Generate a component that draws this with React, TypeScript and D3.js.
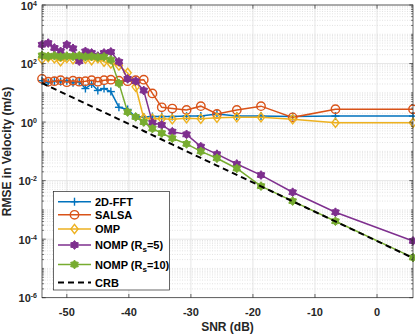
import React from "react";
import * as d3 from "d3";

// SNR grid (dB)
const SNR_DB = [-54, -53, -52, -51, -50, -49, -48, -47, -46, -45, -44, -42.9, -41.6, -40.2, -38.9, -37.6, -36.2, -34.7, -33.0, -30.7, -28.4, -25.8, -22.6, -18.7, -13.6, -6.7, 5.8];

// RMSE in velocity (m/s)
const RMSE_FFT = [26, 22, 25, 24, 26, 22, 24, 14, 20, 12, 14, 11, 3.2, 2.7, 1.5, 1.5, 1.55, 1.55, 1.55, 1.6, 1.6, 1.9, 1.6, 1.6, 1.55, 1.6, 1.6];
const RMSE_SALSA = [30, 24, 25, 27, 23, 26, 24, 25, 27, 24, 27, 28, 26, 25, 27, 28, 9.5, 3.2, 2.9, 2.6, 3.5, 1.9, 2.6, 3.5, 1.45, 2.75, 2.75];
const RMSE_OMP = [140, 165, 150, 120, 155, 140, 160, 145, 130, 150, 115, 100, 85, 48, 16, 1.35, 1.3, 1.3, 1.25, 1.35, 1.3, 1.4, 1.45, 1.45, 1.25, 0.95, 0.95];
const RMSE_NOMP5 = [440, 500, 340, 260, 440, 330, 120, 260, 230, 180, 230, 250, 115, 30, 25, 12, 0.95, 0.8, 0.47, 0.38, 0.145, 0.08, 0.037, 0.0155, 0.004, 0.00083, 0.000087];
const RMSE_NOMP10 = [190, 175, 185, 170, 180, 175, 185, 170, 175, 165, 170, 135, 21, 2.2, 1.5, 1.0, 0.6, 0.42, 0.28, 0.18, 0.1, 0.058, 0.026, 0.0065, 0.002, 0.00041, 0.0000235];
const CRB = [21.6, 17.2, 13.6, 10.8, 8.6, 6.84, 5.43, 4.32, 3.43, 2.72, 2.16, 1.68, 1.245, 0.902, 0.668, 0.495, 0.359, 0.254, 0.172, 0.101, 0.0596, 0.0327, 0.0157, 0.00638, 0.00197, 0.000403, 0.0000226];

const X_TICKS = [-50, -40, -30, -20, -10, 0];
const Y_TICK_EXPS = [-6, -4, -2, 0, 2, 4];

const SERIES = [
  { name: "2D-FFT", values: RMSE_FFT, color: "#0072BD", marker: "plus" },
  { name: "SALSA", values: RMSE_SALSA, color: "#D95319", marker: "circle" },
  { name: "OMP", values: RMSE_OMP, color: "#EDB120", marker: "diamond" },
  { name: "NOMP5", values: RMSE_NOMP5, color: "#7E2F8E", marker: "hex" },
  { name: "NOMP10", values: RMSE_NOMP10, color: "#77AC30", marker: "hex" },
  { name: "CRB", values: CRB, color: "#000000", marker: "none" },
];

const W = 415, H = 336;
const L = 42, R = 413, T = 5, B = 297.7;
const FONT = "'Liberation Sans', Arial, Helvetica, sans-serif";

function hexPath(r: number) {
  const ri = r * 0.68;
  const pts: string[] = [];
  for (let i = 0; i < 12; i++) {
    const a = (Math.PI / 6) * i - Math.PI / 2;
    const rr = i % 2 === 0 ? r : ri;
    pts.push(`${(rr * Math.cos(a)).toFixed(2)},${(rr * Math.sin(a)).toFixed(2)}`);
  }
  return "M" + pts.join("L") + "Z";
}

function Marker({ kind, x, y, color }: { kind: string; x: number; y: number; color: string }) {
  if (kind === "plus") {
    return (
      <g transform={`translate(${x},${y})`} stroke={color} strokeWidth={1.4}>
        <line x1={-4} x2={4} y1={0} y2={0} />
        <line x1={0} x2={0} y1={-4} y2={4} />
      </g>
    );
  }
  if (kind === "circle") {
    return <circle cx={x} cy={y} r={4.2} fill="none" stroke={color} strokeWidth={1.4} />;
  }
  if (kind === "diamond") {
    return <path transform={`translate(${x},${y})`} d="M0,-4.6L3.6,0L0,4.6L-3.6,0Z" fill="none" stroke={color} strokeWidth={1.4} />;
  }
  if (kind === "hex") {
    return <path transform={`translate(${x},${y})`} d={hexPath(4.4)} fill={color} stroke={color} strokeWidth={1} strokeLinejoin="round" />;
  }
  return null;
}

export default function App() {
  const x = d3.scaleLinear().domain([SNR_DB[0], SNR_DB[SNR_DB.length - 1]]).range([L, R]);
  const y = d3.scaleLog().domain([1e-6, 1e4]).range([B, T]);

  const line = (vals: number[]) =>
    d3.line<number>().x((_, i) => x(SNR_DB[i])).y((v) => y(v))(vals) || "";

  const minorY: number[] = [];
  for (let e = -6; e < 4; e++) {
    for (let m = 1; m <= 9; m++) {
      const v = m * Math.pow(10, e);
      if (m === 1 && e % 2 === 0) continue;
      minorY.push(v);
    }
  }

  const legendItems = [
    { s: SERIES[0], label: <tspan>2D-FFT</tspan>, ly: 201.7 },
    { s: SERIES[1], label: <tspan>SALSA</tspan>, ly: 214.8 },
    { s: SERIES[2], label: <tspan>OMP</tspan>, ly: 229 },
    { s: SERIES[3], label: <>NOMP (R<tspan fontSize={8} dy={3}>s</tspan><tspan dy={-3}>=5)</tspan></>, ly: 245 },
    { s: SERIES[4], label: <>NOMP (R<tspan fontSize={8} dy={3}>s</tspan><tspan dy={-3}>=10)</tspan></>, ly: 264.5 },
    { s: SERIES[5], label: <tspan>CRB</tspan>, ly: 282.5 },
  ];

  return (
    <svg width={W} height={H} style={{ position: "absolute", left: 0, top: 0, background: "#fff" }} fontFamily={FONT}>
      <rect x={0} y={0} width={W} height={H} fill="#fff" />
      {/* minor y grid */}
      {minorY.map((v, i) => (
        <line key={"mg" + i} x1={L} x2={R} y1={y(v)} y2={y(v)} stroke="#d0d0d0" strokeWidth={0.6} strokeDasharray="1,1.5" />
      ))}
      {/* major grid */}
      {Y_TICK_EXPS.map((e) => (
        <line key={"gy" + e} x1={L} x2={R} y1={y(Math.pow(10, e))} y2={y(Math.pow(10, e))} stroke="#e0e0e0" strokeWidth={0.8} />
      ))}
      {X_TICKS.map((t) => (
        <line key={"gx" + t} x1={x(t)} x2={x(t)} y1={T} y2={B} stroke="#e0e0e0" strokeWidth={0.8} />
      ))}

      {/* series */}
      {SERIES.map((s) => (
        <g key={s.name}>
          <path
            d={line(s.values)}
            fill="none"
            stroke={s.color}
            strokeWidth={s.marker === "none" ? 2 : 1.5}
            strokeDasharray={s.marker === "none" ? "6,4" : undefined}
          />
          {s.values.map((v, i) => (
            <Marker key={i} kind={s.marker} x={x(SNR_DB[i])} y={y(v)} color={s.color} />
          ))}
        </g>
      ))}

      {/* axes box */}
      <rect x={L} y={T} width={R - L} height={B - T} fill="none" stroke="#262626" strokeWidth={0.7} />
      {/* x ticks */}
      {X_TICKS.map((t) => (
        <g key={"xt" + t}>
          <line x1={x(t)} x2={x(t)} y1={B} y2={B - 3.7} stroke="#262626" strokeWidth={0.7} />
          <line x1={x(t)} x2={x(t)} y1={T} y2={T + 3.7} stroke="#262626" strokeWidth={0.7} />
          <text x={x(t)} y={315.5} textAnchor="middle" fontSize={11} fontWeight="bold" fill="#262626">
            {t}
          </text>
        </g>
      ))}
      {/* y minor ticks */}
      {minorY.map((v, i) => (
        <g key={"ymt" + i}>
          <line x1={L} x2={L + 2} y1={y(v)} y2={y(v)} stroke="#262626" strokeWidth={0.6} />
          <line x1={R} x2={R - 2} y1={y(v)} y2={y(v)} stroke="#262626" strokeWidth={0.6} />
        </g>
      ))}
      {/* y major ticks */}
      {Y_TICK_EXPS.map((e) => {
        const yy = y(Math.pow(10, e));
        return (
          <g key={"yt" + e}>
            <line x1={L} x2={L + 3.7} y1={yy} y2={yy} stroke="#262626" strokeWidth={0.7} />
            <line x1={R} x2={R - 3.7} y1={yy} y2={yy} stroke="#262626" strokeWidth={0.7} />
            <text x={37} y={yy + 4.5} textAnchor="end" fontSize={11} fontWeight="bold" fill="#262626">
              10<tspan fontSize={7} dy={-4}>{e}</tspan>
            </text>
          </g>
        );
      })}

      {/* axis labels */}
      <text x={227.5} y={331} textAnchor="middle" fontSize={12} fontWeight="bold" fill="#262626">
        SNR (dB)
      </text>
      <text transform={`translate(10.5,151.5) rotate(-90)`} textAnchor="middle" fontSize={12} fontWeight="bold" fill="#262626">
        RMSE in Velocity (m/s)
      </text>

      {/* legend */}
      <rect x={53.5} y={191.5} width={116} height={98.5} fill="#fff" stroke="#262626" strokeWidth={0.7} />
      {legendItems.map((it, i) => (
        <g key={"lg" + i}>
          <line
            x1={58}
            x2={91}
            y1={it.ly}
            y2={it.ly}
            stroke={it.s.color}
            strokeWidth={it.s.marker === "none" ? 2 : 1.5}
            strokeDasharray={it.s.marker === "none" ? "6,4" : undefined}
          />
          <Marker kind={it.s.marker} x={74.5} y={it.ly} color={it.s.color} />
          <text x={95} y={it.ly + 4} fontSize={11} fontWeight="bold" fill="#000">
            {it.label}
          </text>
        </g>
      ))}
    </svg>
  );
}
